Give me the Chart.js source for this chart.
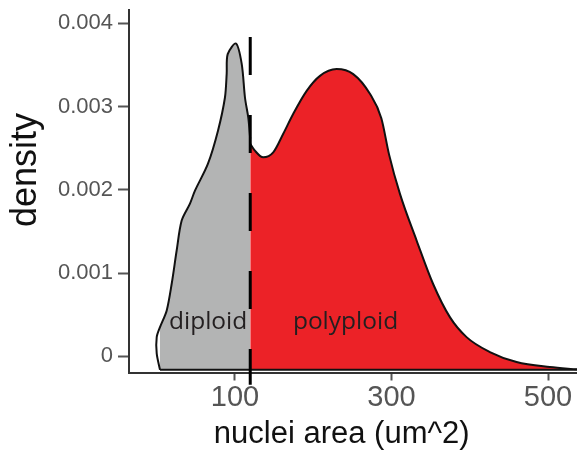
<!DOCTYPE html>
<html>
<head>
<meta charset="utf-8">
<script src="https://cdn.jsdelivr.net/npm/chart.js@4.4.1/dist/chart.umd.min.js"></script>
<style>
  body { margin: 0; background: #fff; }
  canvas { display: block; }
</style>
</head>
<body>
<canvas id="chart" width="577" height="450"></canvas>
<script>
// density curve, split at the diploid / polyploid cutoff
const cutoff = 119.5;
const baseline = -0.000162;

const diploidArea = [4.2, 0, 0, 4.2, 12.8, 19.2, 25.5, 31.9, 42.5, 48.9, 65.5, 78.3, 87.2, 89.4, 90.7, 101.3, 108.6, 112.8, 117.0, 119.5];
const diploidDensity = [-0.000162, 0.000036, 0.000231, 0.000351, 0.000552, 0.000875, 0.001271, 0.001631, 0.001835, 0.001990, 0.002314, 0.002710, 0.003109, 0.003393, 0.003630, 0.003757, 0.003513, 0.003106, 0.002866, 0.002614];

const polyploidArea = [119.5, 125.5, 136.1, 148.9, 161.7, 174.5, 191.6, 208.6, 229.9, 251.1, 272.4, 287.0, 297.0, 310.7, 332.1, 352.9, 374.6, 395.9, 425.7, 459.8, 502.3, 537];
const polyploidDensity = [0.002554, 0.002470, 0.002390, 0.002450, 0.002674, 0.002914, 0.003189, 0.003369, 0.003450, 0.003390, 0.003153, 0.002860, 0.002420, 0.001954, 0.001391, 0.000875, 0.000471, 0.000231, 0.000052, -0.000068, -0.000128, -0.000156];

const cutoffLine = [0.003835, -0.000342];

const xTicks = [100, 300, 500];
const yTicks = [0, 0.001, 0.002, 0.003, 0.004];

const regionNames = ['diploid', 'polyploid'];
const regionX = [15.7, 174];
const regionY = [0.00033, 0.00033];

const toPoints = (xs, ys) => xs.map((v, i) => ({ x: v, y: ys[i] }));

const textPlugin = {
    id: 'texts',
    afterDatasetsDraw(chart) {
        const { ctx, scales: { x, y } } = chart;
        ctx.save();
        ctx.fillStyle = '#231f20';
        ctx.font = '24.5px "Open Sans"';
        ctx.textBaseline = 'alphabetic';
        ctx.textAlign = 'left';
        regionNames.forEach((name, i) => {
            ctx.fillText(name, x.getPixelForValue(regionX[i]), y.getPixelForValue(regionY[i]));
        });

        // axis titles
        ctx.fillStyle = '#111';
        ctx.font = '31px "Liberation Sans"';
        ctx.textAlign = 'center';
        ctx.fillText('nuclei area (um^2)', 341.7, 443);
        ctx.font = '36px "Liberation Sans"';
        ctx.translate(36, 170);
        ctx.rotate(-Math.PI / 2);
        ctx.fillText('density', 0, 0);
        ctx.restore();
    }
};

const data = {
    datasets: [
        {
            label: 'cutoff',
            data: cutoffLine.map((v) => ({ x: cutoff, y: v })),
            borderColor: '#000',
            borderWidth: 3,
            borderDash: [38, 40],
            pointRadius: 0,
            fill: false,
            clip: false,
            order: 0
        },
        {
            label: 'baseline',
            data: [{ x: diploidArea[0], y: baseline }, { x: polyploidArea[polyploidArea.length - 1], y: baseline }],
            borderColor: '#111',
            borderWidth: 2,
            pointRadius: 0,
            fill: false,
            order: 1
        },
        {
            label: 'diploid',
            data: toPoints(diploidArea, diploidDensity),
            borderColor: '#111',
            borderWidth: 2,
            backgroundColor: '#b3b4b4',
            pointRadius: 0,
            tension: 0.3,
            fill: { value: baseline },
            order: 2
        },
        {
            label: 'polyploid',
            data: toPoints(polyploidArea, polyploidDensity),
            borderColor: '#111',
            borderWidth: 2,
            backgroundColor: '#ec2227',
            pointRadius: 0,
            cubicInterpolationMode: 'monotone',
            fill: { value: baseline },
            order: 2
        }
    ]
};

const config = {
    type: 'line',
    data: data,
    options: {
        responsive: false,
        animation: false,
        devicePixelRatio: 1,
        layout: { padding: { top: 10, right: 0, left: 0, bottom: 0 } },
        plugins: { legend: { display: false }, tooltip: { enabled: false } },
        scales: {
            x: {
                type: 'linear',
                min: -35.4,
                max: 537,
                afterBuildTicks: (scale) => { scale.ticks = xTicks.map((v) => ({ value: v })); },
                afterFit: (scale) => {
                    scale.height = 77.5;
                    scale.paddingLeft = 0;
                    scale.paddingRight = 0;
                },
                border: { display: true, color: '#333', width: 2 },
                grid: { drawOnChartArea: false, drawTicks: true, tickLength: 8, color: '#555', tickWidth: 2 },
                ticks: {
                    color: '#555',
                    padding: 0,
                    maxRotation: 0,
                    font: { family: 'Liberation Sans', size: 29 },
                    callback: (v) => String(v)
                }
            },
            y: {
                type: 'linear',
                min: -0.000194,
                max: 0.00416,
                afterBuildTicks: (scale) => { scale.ticks = yTicks.map((v) => ({ value: v })); },
                afterFit: (scale) => {
                    scale.width = 129;
                    scale.paddingTop = 0;
                    scale.paddingBottom = 0;
                },
                border: { display: true, color: '#333', width: 2 },
                grid: { drawOnChartArea: false, drawTicks: true, tickLength: 11, color: '#555', tickWidth: 2 },
                ticks: {
                    color: '#555',
                    padding: 5,
                    font: { family: 'Liberation Sans', size: 22 },
                    callback: (v) => (v === 0 ? '0' : v.toFixed(3))
                }
            }
        }
    },
    plugins: [textPlugin]
};

new Chart(document.getElementById('chart'), config);
</script>
</body>
</html>
